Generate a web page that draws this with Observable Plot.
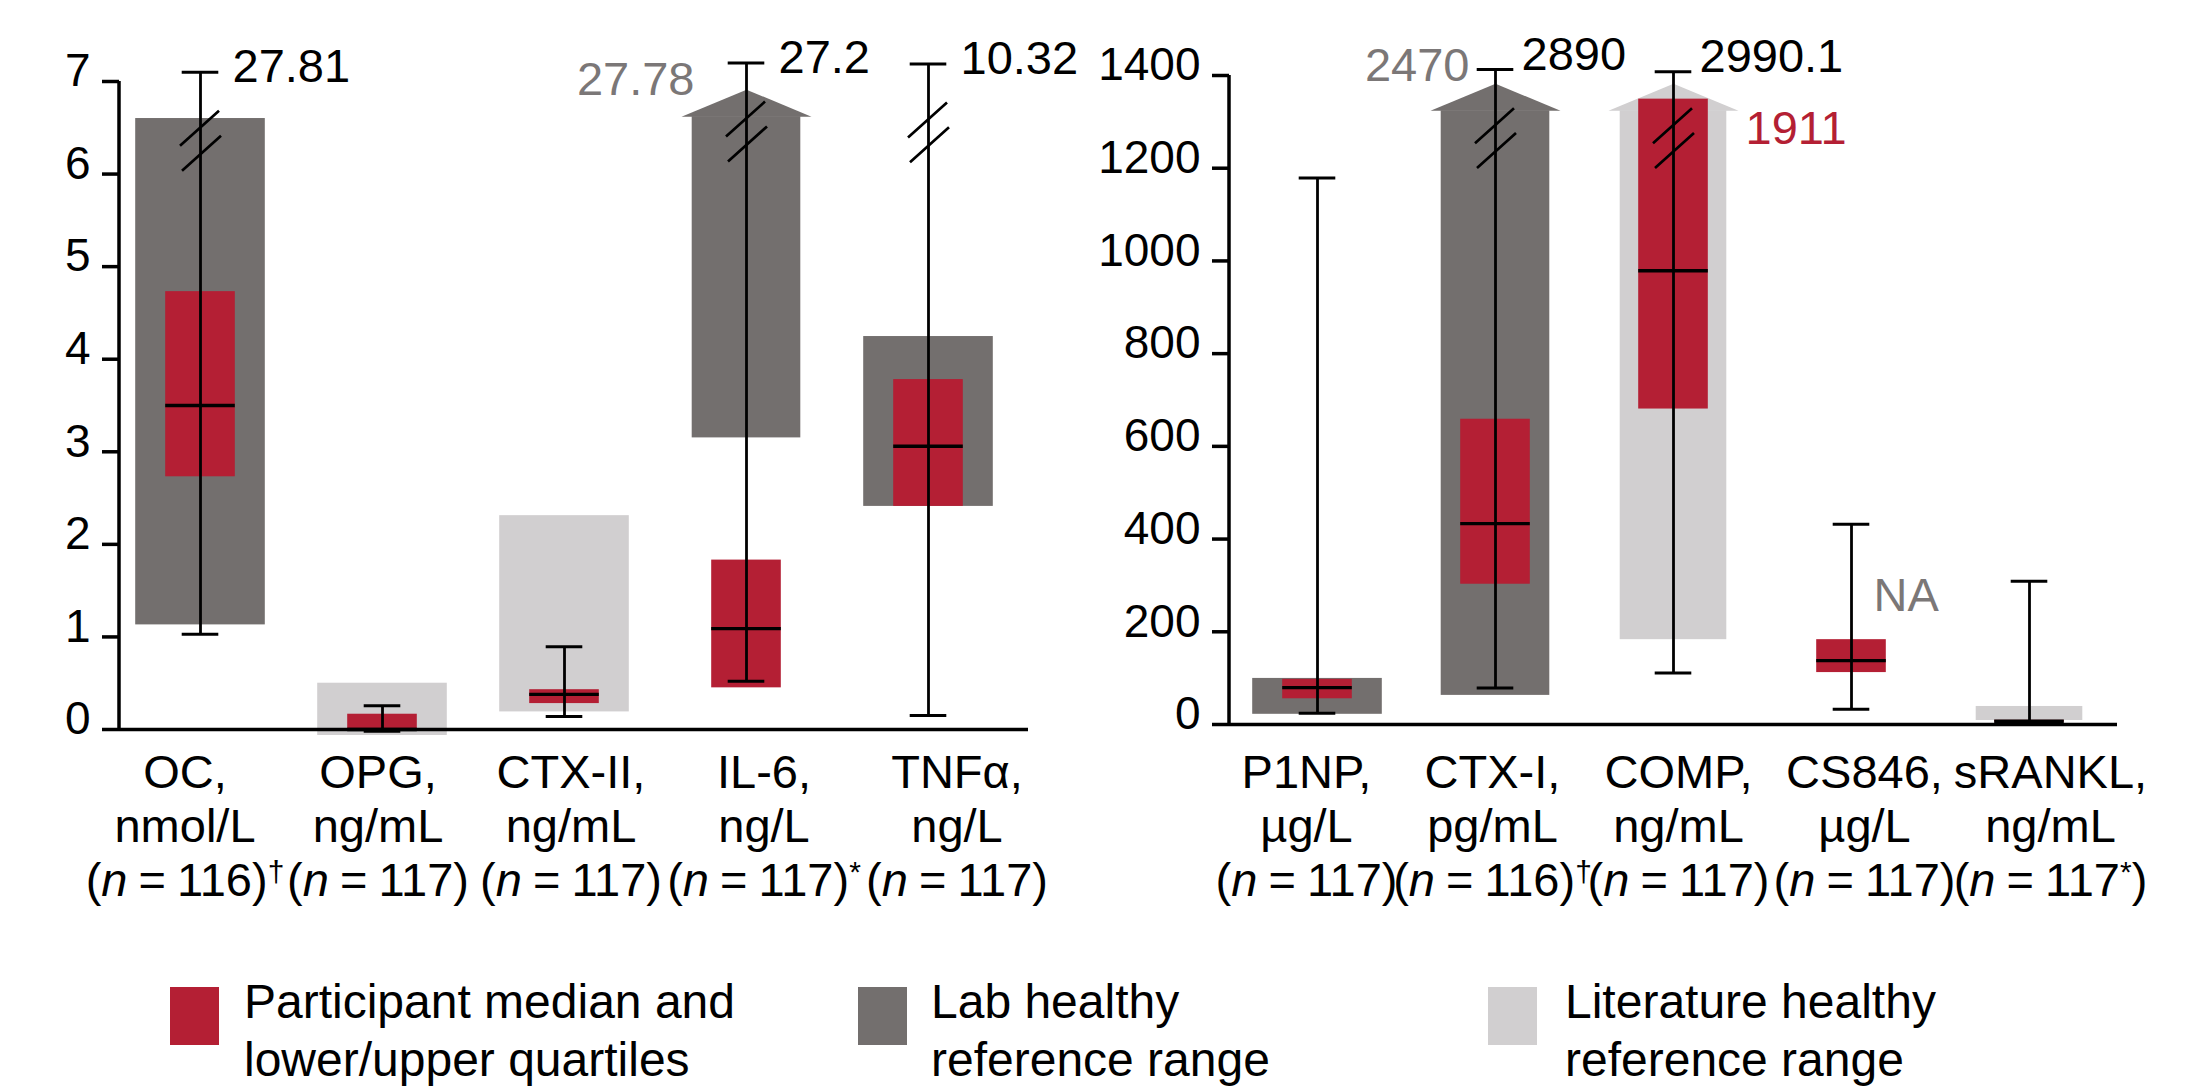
<!DOCTYPE html>
<html>
<head>
<meta charset="utf-8">
<script src="https://cdn.jsdelivr.net/npm/d3@7"></script>
<script src="https://cdn.jsdelivr.net/npm/@observablehq/plot@0.6"></script>
<style>
  html, body { margin: 0; padding: 0; background: #fff; }
  body { font-family: "Liberation Sans", Arial, Helvetica, sans-serif; }
  #wrap { position: relative; width: 2185px; height: 1087px; overflow: hidden; background: #fff; }
  .panel { position: absolute; top: 0; }
  .sw { position: absolute; top: 987px; width: 49px; height: 58px; }
  .lt { position: absolute; top: 973px; font-size: 48px; line-height: 58px; white-space: nowrap; color: #000; }
</style>
</head>
<body>
<div id="wrap"></div>
<script>
// ---------------- DATA ----------------
// Left panel
const leftCategories = ["OC", "OPG", "CTX-II", "IL-6", "TNFα"];
const leftUnits      = ["nmol/L", "ng/mL", "ng/mL", "ng/L", "ng/L"];
const leftN          = ["(n = 116)†", "(n = 117)", "(n = 117)", "(n = 117)*", "(n = 117)"];
const leftQ1         = [2.73, 0.00, 0.28, 0.45, 2.41];
const leftMedian     = [3.50, 0.00, 0.38, 1.09, 3.06];
const leftQ3         = [4.73, 0.165, 0.43, 1.83, 3.78];
const leftMin        = [1.03, -0.02, 0.14, 0.52, 0.15];
const leftMax        = [7.10, 0.256, 0.895, 7.20, 7.19];   // drawn (axis-broken) maximum
const leftMaxLabel   = ["27.81", "", "", "27.2", "10.32"];  // true maximum
const leftBreak      = [6.36, null, null, 6.46, 6.45];
const leftLabLow     = [1.13, null, null, 3.15, 2.41];
const leftLabHigh    = [6.60, null, null, 6.62, 4.245];
const leftLabOpen    = [false, false, false, true, false];
const leftLabLabel   = ["", "", "", "27.78", ""];
const leftLitLow     = [null, -0.065, 0.19, null, null];
const leftLitHigh    = [null, 0.50, 2.31, null, null];
const leftLitOpen    = [false, false, false, false, false];
const leftQ3Label    = ["", "", "", "", ""];
const leftNotes      = [];
const leftTicks      = [0, 1, 2, 3, 4, 5, 6, 7];

// Right panel
const rightCategories = ["P1NP", "CTX-I", "COMP", "CS846", "sRANKL"];
const rightUnits      = ["µg/L", "pg/mL", "ng/mL", "µg/L", "ng/mL"];
const rightN          = ["(n = 117)", "(n = 116)†", "(n = 117)", "(n = 117)", "(n = 117*)"];
const rightQ1         = [55.5, 302.6, 680.5, 112, 5];
const rightMedian     = [79.5, 433.5, 978.8, 137.6, 7];
const rightQ3         = [97.4, 658.5, 1349, 183, 9];
const rightMin        = [24, 78.6, 111, 33, 3];
const rightMax        = [1179, 1413, 1408, 432, 309];
const rightMaxLabel   = ["", "2890", "2990.1", "", ""];
const rightBreak      = [null, 1265, 1265, null, null];
const rightLabLow     = [22, 62.8, null, null, null];
const rightLabHigh    = [99.4, 1324, null, null, null];
const rightLabOpen    = [false, true, false, false, false];
const rightLabLabel   = ["", "2470", "", "", ""];
const rightLitLow     = [null, null, 183, null, 8.6];
const rightLitHigh    = [null, null, 1324, null, 38.9];
const rightLitOpen    = [false, false, true, false, false];
const rightQ3Label    = ["", "", "1911", "", ""];
const rightNotes      = [{cat: "CS846", value: 278, text: "NA"}];
const rightTicks      = [0, 200, 400, 600, 800, 1000, 1200, 1400];

const legendLabels = [
  "Participant median and\nlower/upper quartiles",
  "Lab healthy\nreference range",
  "Literature healthy\nreference range"
];

// ---------------- STYLE ----------------
const RED = "#B41F34";
const DARK = "#736F6E";
const LIGHT = "#D1CFD0";
const GRAYTEXT = "#7B7777";
const FONT = '"Liberation Sans", Arial, Helvetica, sans-serif';
const NS = "http://www.w3.org/2000/svg";

const headSymbol = { draw(ctx) { ctx.moveTo(-65, 0); ctx.lineTo(0, -27); ctx.lineTo(65, 0); ctx.closePath(); } };
const breakSymbol = { draw(ctx) {
  ctx.moveTo(-20.5, 5.1); ctx.lineTo(18.5, -29.9);
  ctx.moveTo(-18.5, 29.9); ctx.lineTo(20.5, -5.1);
} };

function richN(svg) {
  svg.querySelectorAll("tspan, text").forEach(el => {
    if (el.children.length) return;
    const t = el.textContent;
    if (!t.startsWith("(n")) return;
    el.textContent = "";
    el.setAttribute("word-spacing", "-2");
    el.style.wordSpacing = "-2px";
    const add = (s, attrs = {}) => {
      const ts = document.createElementNS(NS, "tspan");
      for (const k in attrs) ts.setAttribute(k, attrs[k]);
      ts.textContent = s;
      el.appendChild(ts);
    };
    add("(");
    add("n", {"font-style": "italic"});
    t.slice(2).split(/([†*])/).forEach(part => {
      if (!part) return;
      if (part === "†" || part === "*") add(part, {"font-size": "30", "baseline-shift": "14px"});
      else add(part);
    });
  });
}

function panel(cfg) {
  const n = cfg.cats.length;
  const bw = (cfg.range[1] - cfg.range[0]) / n;
  const ins = w => ({insetLeft: (bw - w) / 2, insetRight: (bw - w) / 2});
  const rows = cfg.cats.map((c, i) => ({
    cat: c,
    label: `${c},\n${cfg.units[i]}\n${cfg.n[i]}`,
    q1: cfg.q1[i], med: cfg.median[i], q3: cfg.q3[i],
    lo: cfg.min[i], hi: cfg.max[i], hiLabel: cfg.maxLabel[i],
    brk: cfg.brk[i],
    labLo: cfg.labLow[i], labHi: cfg.labHigh[i], labOpen: cfg.labOpen[i], labLabel: cfg.labLabel[i],
    litLo: cfg.litLow[i], litHi: cfg.litHigh[i], litOpen: cfg.litOpen[i],
    q3Label: cfg.q3Label[i],
    narrowLit: cfg.narrow.includes(c)
  }));
  const labWide = rows.filter(d => d.labLo != null && !d.labOpen);
  const labNarrow = rows.filter(d => d.labLo != null && d.labOpen);
  const litWide = rows.filter(d => d.litLo != null && !d.litOpen && !d.narrowLit);
  const litNarrow = rows.filter(d => d.litLo != null && (d.litOpen || d.narrowLit));

  const yAxisLine = (index, scales, values, dims) => {
    const l = document.createElementNS(NS, "line");
    l.setAttribute("x1", dims.marginLeft);
    l.setAttribute("x2", dims.marginLeft);
    l.setAttribute("y1", dims.marginTop);
    l.setAttribute("y2", dims.height - dims.marginBottom + 1.75);
    l.setAttribute("stroke", "#000");
    l.setAttribute("stroke-width", 3.5);
    return l;
  };

  const common = {
    width: cfg.width, height: 905,
    marginLeft: cfg.marginLeft, marginRight: cfg.marginRight,
    marginTop: cfg.marginTop, marginBottom: cfg.marginBottom,
    style: {fontFamily: FONT, fontSize: "46px", color: "#000", background: "transparent", overflow: "visible"}
  };

  const svg = Plot.plot({
    ...common,
    x: {type: "band", domain: cfg.cats, range: cfg.range, padding: 0, axis: null},
    y: {domain: cfg.domain, axis: null},
    marks: [
      // y axis: ticks only, then labels only (labels sit slightly above their ticks)
      Plot.axisY(cfg.ticks, {tickSize: 17, strokeWidth: 3.5, fill: "none", label: null}),
      Plot.axisY(cfg.ticks, {tickSize: 0, tickPadding: 29, dy: -10, fontSize: 46, label: null, tickFormat: d => String(d)}),
      yAxisLine,
      // reference ranges
      Plot.barY(labWide, {x: "cat", y1: "labLo", y2: "labHi", fill: DARK, ...ins(130)}),
      Plot.barY(labNarrow, {x: "cat", y1: "labLo", y2: "labHi", fill: DARK, ...ins(109)}),
      Plot.dot(labNarrow, {x: "cat", y: "labHi", symbol: headSymbol, fill: DARK, stroke: null, r: 1}),
      Plot.barY(litWide, {x: "cat", y1: "litLo", y2: "litHi", fill: LIGHT, ...ins(130)}),
      Plot.barY(litNarrow, {x: "cat", y1: "litLo", y2: "litHi", fill: LIGHT, ...ins(107)}),
      Plot.dot(litNarrow.filter(d => d.litOpen), {x: "cat", y: "litHi", symbol: headSymbol, fill: LIGHT, stroke: null, r: 1}),
      // participant boxes
      Plot.barY(rows, {x: "cat", y1: "q1", y2: "q3", fill: RED, ...ins(70)}),
      Plot.ruleX(rows, {x: "cat", y1: "lo", y2: "hi", stroke: "#000", strokeWidth: 2.8}),
      Plot.tickY(rows, {x: "cat", y: "med", stroke: "#000", strokeWidth: 3.3, ...ins(70)}),
      Plot.tickY(rows, {x: "cat", y: "lo", stroke: "#000", strokeWidth: 3, ...ins(37)}),
      Plot.tickY(rows, {x: "cat", y: "hi", stroke: "#000", strokeWidth: 3, ...ins(37)}),
      Plot.dot(rows.filter(d => d.brk != null), {x: "cat", y: "brk", symbol: breakSymbol, fill: "none", stroke: "#000", strokeWidth: 2.7, r: 1}),
      // x axis line
      Plot.ruleY([0], {stroke: "#000", strokeWidth: 3.5}),
      // annotations
      Plot.text(rows.filter(d => d.hiLabel), {x: "cat", y: "hi", text: "hiLabel", textAnchor: "start", dx: cfg.maxDx, dy: cfg.maxDy, fontSize: 47, fill: "#000"}),
      Plot.text(rows.filter(d => d.labLabel), {x: "cat", y: "labHi", text: "labLabel", textAnchor: "end", dx: cfg.grayDx, dy: cfg.grayDy, fontSize: 47, fill: GRAYTEXT}),
      Plot.text(rows.filter(d => d.q3Label), {x: "cat", y: "q3", text: "q3Label", textAnchor: "start", dx: 72, dy: 30, fontSize: 47, fill: RED}),
      Plot.text(cfg.notes, {x: "cat", y: "value", text: "text", textAnchor: "start", dx: 22, fontSize: 47, fill: GRAYTEXT})
    ]
  });

  // category labels: their own band scale (the labels are spread wider than the bars)
  const labels = Plot.plot({
    ...common,
    x: {type: "band", domain: cfg.cats, range: cfg.labelRange, padding: 0, axis: null},
    y: {domain: cfg.domain, axis: null},
    marks: [
      Plot.text(rows, {x: "cat", text: "label", frameAnchor: "bottom", lineAnchor: "top", dy: cfg.labelDy, lineHeight: 1.15, fontSize: 47, fill: "#000"})
    ]
  });
  richN(labels);
  return [svg, labels];
}

const wrap = document.getElementById("wrap");

const leftParts = panel({
  cats: leftCategories, units: leftUnits, n: leftN,
  q1: leftQ1, median: leftMedian, q3: leftQ3, min: leftMin, max: leftMax, maxLabel: leftMaxLabel,
  brk: leftBreak, labLow: leftLabLow, labHigh: leftLabHigh, labOpen: leftLabOpen, labLabel: leftLabLabel,
  litLow: leftLitLow, litHigh: leftLitHigh, litOpen: leftLitOpen, q3Label: leftQ3Label, notes: leftNotes,
  ticks: leftTicks, domain: [0, 7], narrow: [],
  width: 1100, marginLeft: 119, marginRight: 72, marginTop: 81, marginBottom: 176,
  range: [108.2, 1020.2], labelRange: [87, 1054.6], labelDy: 20,
  maxDx: 32, maxDy: -5, grayDx: -52, grayDy: -37
});
leftParts.forEach(s => { s.classList.add("panel"); s.style.left = "0px"; wrap.appendChild(s); });

const rightParts = panel({
  cats: rightCategories, units: rightUnits, n: rightN,
  q1: rightQ1, median: rightMedian, q3: rightQ3, min: rightMin, max: rightMax, maxLabel: rightMaxLabel,
  brk: rightBreak, labLow: rightLabLow, labHigh: rightLabHigh, labOpen: rightLabOpen, labLabel: rightLabLabel,
  litLow: rightLitLow, litHigh: rightLitHigh, litOpen: rightLitOpen, q3Label: rightQ3Label, notes: rightNotes,
  ticks: rightTicks, domain: [0, 1400], narrow: ["sRANKL"],
  width: 1085, marginLeft: 129, marginRight: 68, marginTop: 75, marginBottom: 181,
  range: [126.7, 1018.7], labelRange: [112.4, 1044.4], labelDy: 25,
  maxDx: 26, maxDy: -15, grayDx: -26, grayDy: -45
});
rightParts.forEach(s => { s.classList.add("panel"); s.style.left = "1100px"; wrap.appendChild(s); });

// legend (HTML below the plots)
const legendColors = [RED, DARK, LIGHT];
const swatchX = [170, 858, 1488];
const textX = [244, 931, 1565];
legendLabels.forEach((lab, i) => {
  const sw = document.createElement("div");
  sw.className = "sw";
  sw.style.left = swatchX[i] + "px";
  sw.style.background = legendColors[i];
  wrap.appendChild(sw);
  const tx = document.createElement("div");
  tx.className = "lt";
  tx.style.left = textX[i] + "px";
  tx.innerHTML = lab.replace("\n", "<br>");
  wrap.appendChild(tx);
});
</script>
</body>
</html>
